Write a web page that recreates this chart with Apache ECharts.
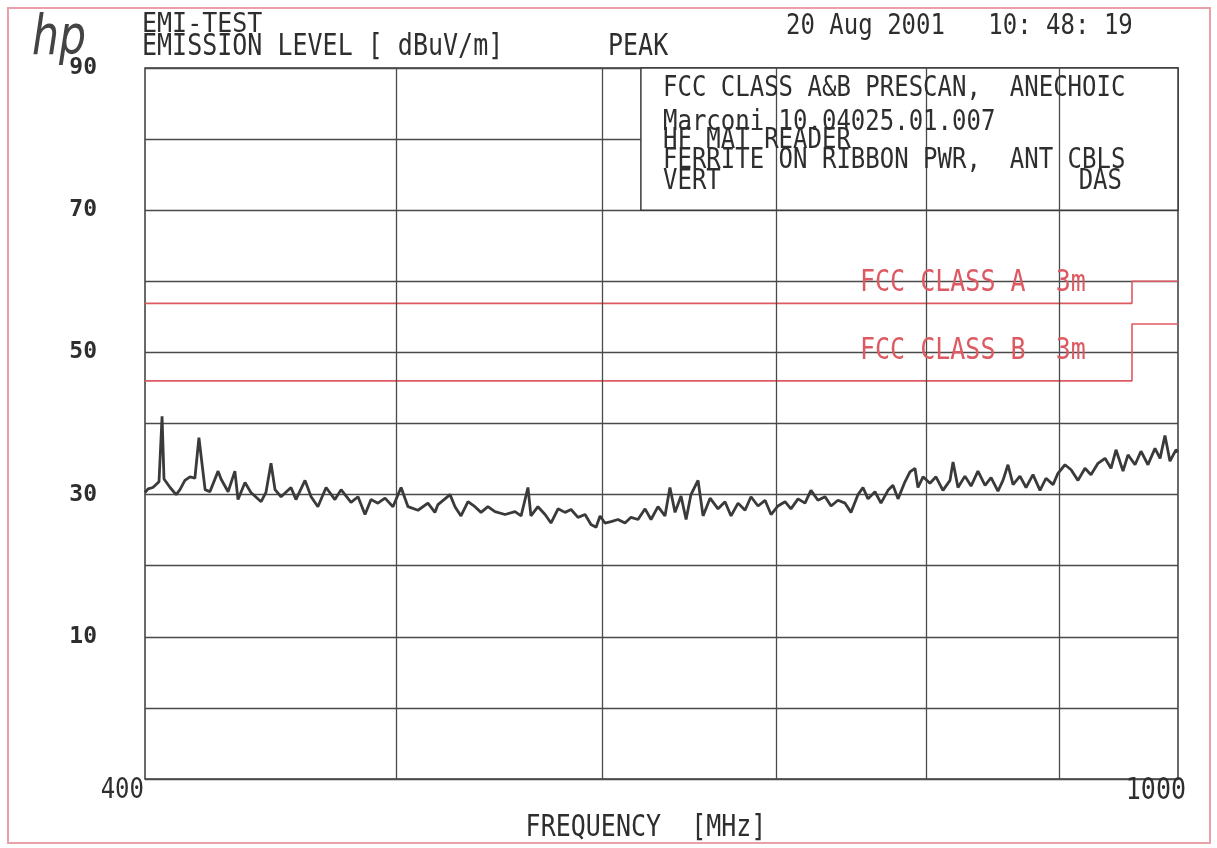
<!DOCTYPE html>
<html><head><meta charset="utf-8">
<script src="https://cdn.jsdelivr.net/npm/echarts@6/dist/echarts.min.js"></script>
<style>html,body{margin:0;padding:0;background:#fff}#c{width:1217px;height:848px}</style>
</head><body><div id="c"></div>
<script>
// Frequency (MHz) of each trace sample
const freqs = [400.0,401.1,402.8,405.0,406.1,406.8,409.0,411.2,412.6,414.4,416.3,418.1,419.6,421.9,423.7,426.8,427.9,430.6,433.2,434.4,
437.1,439.4,443.4,445.3,447.3,448.9,451.3,455.3,457.3,461.0,463.5,466.3,469.7,473.4,476.0,480.2,483.2,486.2,488.8,491.8,
494.9,498.4,502.0,505.1,509.6,514.1,517.3,518.7,524.3,526.6,529.4,532.7,536.0,538.9,542.2,545.6,550.5,555.4,558.4,561.8,
563.3,566.8,570.4,573.4,577.0,580.6,583.7,587.3,591.0,594.1,596.8,598.9,601.5,604.8,608.5,612.3,615.6,619.4,623.3,626.6,
630.5,634.4,637.2,640.1,643.5,646.4,649.2,653.3,656.2,660.3,665.0,669.1,672.7,676.9,681.1,684.7,689.0,693.3,697.0,701.3,
705.7,709.4,713.9,718.3,722.1,726.6,731.2,735.1,739.6,744.3,748.2,752.9,756.2,759.6,764.3,768.4,773.2,776.6,780.1,784.9,
788.4,791.9,794.0,797.6,802.5,806.8,811.8,816.9,819.1,822.7,827.8,832.3,837.4,842.7,847.2,852.4,856.2,860.0,863.9,869.2,
873.9,879.3,884.8,889.5,895.1,899.0,904.6,909.5,915.1,920.8,925.7,931.5,937.3,942.3,946.5,952.4,956.6,962.6,967.7,973.7,
979.8,984.2,988.5,992.9,998.2,1000.0];
// Peak emission level (dBuV/m)
const levels = [30.3,30.8,31.0,31.8,41.0,32.2,31.0,30.0,30.7,32.0,32.5,32.3,38.0,30.7,30.4,33.3,32.2,30.4,33.3,29.3,
31.7,30.3,29.0,30.3,34.4,30.7,29.7,31.0,29.3,32.0,29.7,28.3,31.0,29.3,30.7,28.9,29.7,27.2,29.3,28.8,
29.5,28.3,31.0,28.3,27.8,28.8,27.5,28.6,30.0,28.3,27.0,29.0,28.3,27.5,28.3,27.6,27.2,27.6,27.0,31.0,
27.0,28.3,27.2,26.0,28.0,27.5,27.9,26.8,27.2,25.8,25.4,27.0,26.0,26.2,26.5,26.0,26.8,26.5,28.0,26.5,
28.3,27.0,31.0,27.5,29.8,26.5,30.0,32.0,27.0,29.5,28.0,29.0,27.0,28.8,27.8,29.7,28.4,29.2,27.2,28.4,
29.0,28.0,29.4,28.8,30.6,29.2,29.7,28.4,29.2,28.8,27.5,30.0,31.0,29.4,30.4,28.8,30.6,31.3,29.4,31.8,
33.2,33.7,31.0,32.5,31.6,32.5,30.6,32.0,34.6,31.0,32.6,31.2,33.3,31.3,32.4,30.5,32.0,34.2,31.4,32.6,
31.0,32.8,30.6,32.3,31.4,33.0,34.2,33.5,32.0,33.7,32.8,34.4,35.1,33.7,36.3,33.3,35.6,34.2,36.1,34.2,
36.5,35.1,38.3,34.7,36.3,36.0];
// FCC limit lines (3 m)
const classAFreq = [400, 960, 960, 1000];
const classALevel = [56.9, 56.9, 60, 60];
const classBFreq = [400, 960, 960, 1000];
const classBLevel = [46, 46, 54, 54];
const xGridFreqs = [500, 600, 700, 800, 900];
const xTickLabels = ['400', '1000'];
const yTickLabels = [90, 70, 50, 30, 10];
const infoLines = ['FCC CLASS A&B PRESCAN,  ANECHOIC', 'Marconi 10.04025.01.007', 'HF MAT READER', 'FERRITE ON RIBBON PWR,  ANT CBLS', 'VERT'];

const zip = (a, b) => a.map((v, i) => [v, b[i]]);
const mono = '"DejaVu Sans Mono", monospace';
const ink = '#2e2e2e';
const red = '#de5a62';

const chart = echarts.init(document.getElementById('c'), null, {renderer: 'canvas'});
// text element positioned at (x, y), optionally stretched vertically
const txt = (text, x, y, size, style, sy) => ({
  type: 'text', z: 100, silent: true, x, y, scaleY: sy || 1.18,
  style: Object.assign({text, x: 0, y: 0, font: size + 'px ' + mono, fill: ink, textAlign: 'left', textVerticalAlign: 'middle'}, style || {})
});

chart.setOption({
  animation: false,
  backgroundColor: '#fff',
  grid: {left: 145, right: 39, top: 68, bottom: 69, show: true, borderColor: '#3a3a3a', borderWidth: 1.5, backgroundColor: 'transparent'},
  xAxis: {type: 'log', logBase: 10, min: 400, max: 1000,
    axisLine: {show: false}, axisTick: {show: false}, axisLabel: {show: false}, splitLine: {show: false}},
  yAxis: {type: 'value', min: -10, max: 90, interval: 10,
    axisLine: {show: false}, axisTick: {show: false},
    axisLabel: {margin: 48, color: ink, fontSize: 23, fontWeight: 'bold', fontFamily: mono,
      formatter: v => yTickLabels.includes(v) ? String(v) : ''},
    splitLine: {lineStyle: {color: '#4a4a4a', width: 1.3}}},
  series: [
    {type: 'line', name: 'grid', data: [], silent: true, z: 1,
      markLine: {silent: true, symbol: 'none', label: {show: false},
        lineStyle: {color: '#4a4a4a', width: 1.3, type: 'solid'},
        data: xGridFreqs.map(f => ({xAxis: f}))}},
    {type: 'line', name: 'box', data: [], silent: true, z: 3,
      markArea: {silent: true, label: {show: false},
        itemStyle: {color: '#fff', borderColor: '#3a3a3a', borderWidth: 1.5},
        data: [[{coord: [621, 90]}, {coord: [1000, 70]}]]}},
    {type: 'line', name: 'FCC CLASS A 3m', data: zip(classAFreq, classALevel), showSymbol: false, z: 4,
      lineStyle: {color: red, width: 1.6}},
    {type: 'line', name: 'FCC CLASS B 3m', data: zip(classBFreq, classBLevel), showSymbol: false, z: 4,
      lineStyle: {color: red, width: 1.6}},
    {type: 'line', name: 'PEAK', data: zip(freqs, levels), showSymbol: false, z: 5,
      lineStyle: {color: '#3a3a3a', width: 2.8}}
  ],
  graphic: [
    {type: 'rect', z: 100, silent: true, shape: {x: 8, y: 8, width: 1202, height: 835},
      style: {fill: 'none', stroke: '#eaa0a8', lineWidth: 2}},
    {type: 'text', z: 100, silent: true, x: 32, y: 40, scaleX: 0.82, scaleY: 1.05,
      style: {text: 'hp', x: 0, y: 0, font: 'italic 300 52px "DejaVu Sans", sans-serif', fill: '#444', textAlign: 'left', textVerticalAlign: 'middle'}},
    txt('EMI-TEST', 142, 25, 25, null, 1.08),
    txt('EMISSION LEVEL [ dBuV/m]', 142, 47, 25),
    txt('PEAK', 608, 47, 25),
    txt('20 Aug 2001   10: 48: 19', 786, 27, 24),
    txt(infoLines[0], 663, 89, 24),
    txt(infoLines[1], 663, 123, 24),
    txt(infoLines[2], 663, 141, 24),
    txt(infoLines[3], 663, 161, 24),
    txt(infoLines[4], 663, 182, 24),
    txt('DAS', 1122, 182, 24, {textAlign: 'right'}),
    txt('FCC CLASS A  3m', 860, 283, 25, {fill: red}),
    txt('FCC CLASS B  3m', 860, 351, 25, {fill: red}),
    txt(xTickLabels[0], 144, 791, 24, {textAlign: 'right'}),
    txt(xTickLabels[1], 1186, 791, 25, {textAlign: 'right'}),
    txt('FREQUENCY  [MHz]', 646, 828, 25, {textAlign: 'center'})
  ]
});
</script>
</body></html>
